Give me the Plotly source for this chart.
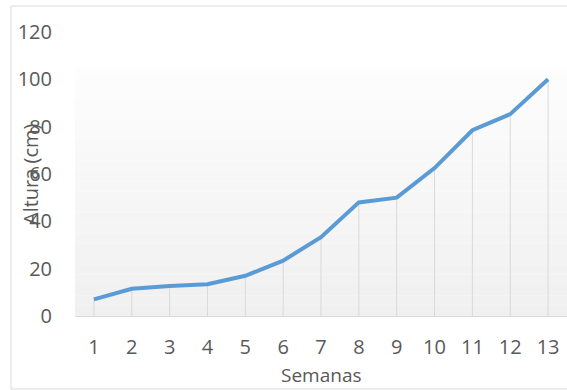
import plotly.graph_objects as go

semanas = list(range(1, 14))
altura = [7, 11.5, 12.7, 13.4, 17, 23.4, 33.3, 48, 50, 62.5, 78.5, 85.3, 100]
y_ticks = [0, 20, 40, 60, 80, 100, 120]

W, H = 567, 390
L, R, T, B = 75, 0, 32, 74
FONT = "Open Sans"
GREY = "#595959"

fig = go.Figure()

# drop lines
fig.add_trace(go.Scatter(
    x=semanas, y=altura, mode="markers",
    marker=dict(size=1, color="rgba(0,0,0,0)"),
    error_y=dict(type="data", symmetric=False, array=[0] * len(altura),
                 arrayminus=altura, thickness=1, width=0, color="#d9d9d9"),
    hoverinfo="skip", showlegend=False,
))
# main line
fig.add_trace(go.Scatter(
    x=semanas, y=altura, mode="lines",
    line=dict(color="#5b9bd5", width=4),
    hoverinfo="skip", showlegend=False,
))

# plot-area gradient fill
n = 24
top = 105
c0, c1 = 240, 253
for i in range(n):
    v = int(round(c0 + (c1 - c0) * i / (n - 1)))
    fig.add_shape(type="rect", xref="paper", yref="y",
                  x0=0, x1=1, y0=top * i / n, y1=top * (i + 1) / n,
                  fillcolor=f"rgb({v},{v},{v})", line=dict(width=0), layer="below")

# outer chart border
pw = W - L - R
ph = H - T - B
fig.add_shape(type="rect", xref="paper", yref="paper",
              x0=(11 - L) / pw, x1=(W + 5 - L) / pw,
              y0=(H - B - 389) / ph, y1=(H - B - 6) / ph,
              line=dict(color="#d9d9d9", width=1), fillcolor="rgba(0,0,0,0)", layer="below")

fig.update_layout(
    width=W, height=H,
    margin=dict(l=L, r=R, t=T, b=B),
    paper_bgcolor="white", plot_bgcolor="white",
    font=dict(family=FONT, size=20, color=GREY),
    xaxis=dict(range=[0.5, 13.5], tickmode="array", tickvals=semanas,
               ticktext=[str(s) for s in semanas],
               showgrid=False, zeroline=False, showline=True, linecolor="#d9d9d9",
               linewidth=1, ticks="outside", ticklen=13, tickcolor="rgba(0,0,0,0)",
               tickfont=dict(family=FONT, size=20, color=GREY)),
    yaxis=dict(range=[0, 120], tickmode="array", tickvals=y_ticks,
               showgrid=False, zeroline=False, showline=False,
               ticks="outside", ticklen=18, tickcolor="rgba(0,0,0,0)",
               tickfont=dict(family=FONT, size=20, color=GREY)),
    annotations=[
        dict(text="Altura (cm)", xref="paper", yref="paper", x=0, y=0.5,
             xshift=-45, textangle=-90, showarrow=False,
             xanchor="center", yanchor="middle",
             font=dict(family=FONT, size=20, color=GREY)),
        dict(text="Semanas", xref="paper", yref="paper", x=0.5, y=0,
             yshift=-59, showarrow=False, xanchor="center", yanchor="middle",
             font=dict(family=FONT, size=19, color=GREY)),
    ],
)

fig.write_html("out.html")
